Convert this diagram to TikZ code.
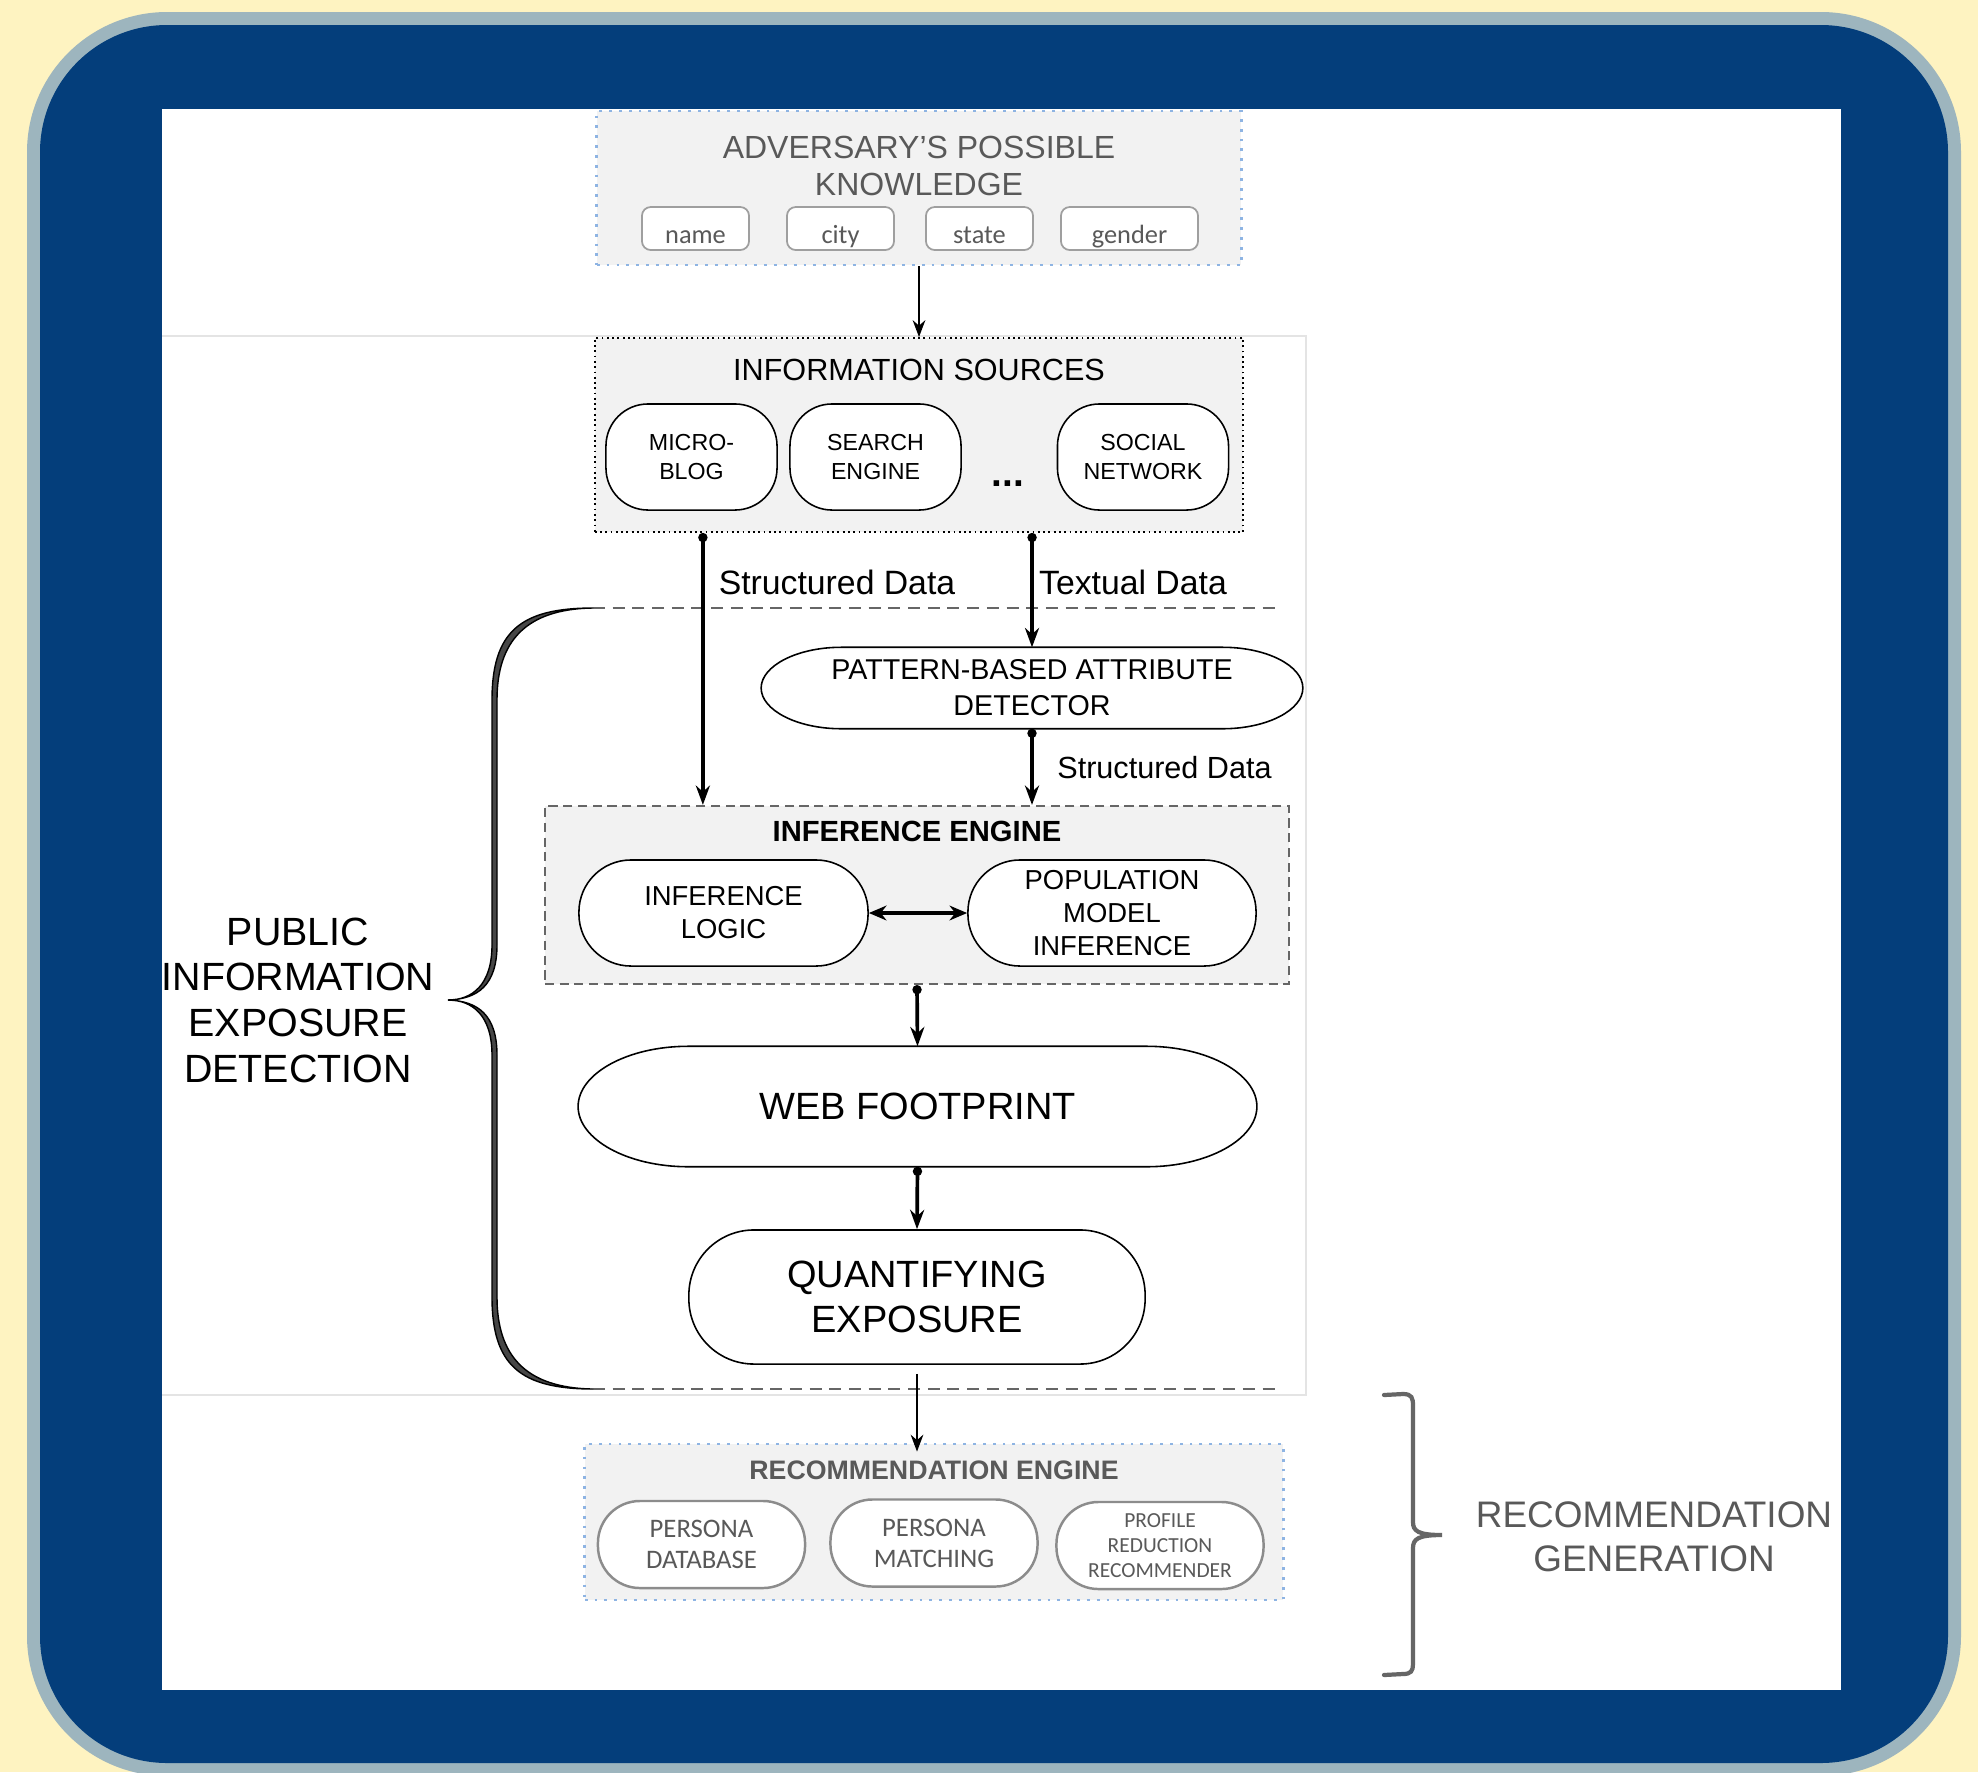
\documentclass[tikz,border=0pt]{standalone}
\usepackage{fontspec}
\setmainfont{Liberation Sans}
\newfontfamily\calib{Carlito}
\usetikzlibrary{arrows.meta}
\definecolor{creambg}{HTML}{FEF3C1}
\definecolor{frameedge}{HTML}{9DB5BE}
\definecolor{navy}{HTML}{043E7B}
\definecolor{boxfill}{HTML}{F2F2F2}
\definecolor{txtgray}{HTML}{595959}
\definecolor{dotblue}{HTML}{8EB4E3}
\definecolor{faintline}{HTML}{E4E4E4}
\newcommand{\fsz}[2]{\fontsize{#1}{#2}\selectfont}
% capsule with elliptical ends round a named node: name, x radius, y radius
\newcommand{\capsule}[3]{%
  \draw[line width=0.45pt, fill=white]
    ([xshift=-#2]#1.north east)
    .. controls ([xshift=-0.448*#2]#1.north east) and ([yshift=0.552*#3]#1.east) .. (#1.east)
    .. controls ([yshift=-0.552*#3]#1.east) and ([xshift=-0.448*#2]#1.south east) .. ([xshift=-#2]#1.south east)
    -- ([xshift=#2]#1.south west)
    .. controls ([xshift=0.448*#2]#1.south west) and ([yshift=-0.552*#3]#1.west) .. (#1.west)
    .. controls ([yshift=0.552*#3]#1.west) and ([xshift=0.448*#2]#1.north west) .. ([xshift=#2]#1.north west)
    -- cycle;}

\begin{document}
\begin{tikzpicture}[
  x=0.01cm, y=-0.01cm,
  arrow/.style={-{Stealth[length=5.5pt,width=4pt]}, line width=1.05pt},
  thinarrow/.style={-{Stealth[length=4.8pt,width=3.6pt]}, line width=0.5pt},
  dotarrow/.style={{Circle[length=2.6pt]}-{Stealth[length=5.5pt,width=4pt]}, line width=1.05pt},
  group/.style={fill=boxfill, inner sep=0pt},
  tag/.style={draw=gray!75, fill=white, rounded corners=2.5pt, line width=0.5pt, text=txtgray, font=\calib\fsz{7.5}{9}, minimum height=0.43cm, inner sep=0pt, text height=0.86em, text depth=0pt},
  srcbox/.style={draw, fill=white, rounded corners=0.42cm, line width=0.45pt, align=center, font=\fsz{6.6}{8}, minimum width=1.71cm, minimum height=1.06cm, inner sep=0pt},
  pill/.style={draw, fill=white, line width=0.45pt, align=center, inner sep=0pt},
  slot/.style={inner sep=0pt},
  recpill/.style={draw=gray!90, fill=white, line width=0.7pt, rounded corners=0.42cm, align=center, inner sep=0pt, text=txtgray, minimum width=2.07cm, minimum height=0.87cm},
  sepline/.style={gray!80!black, line width=0.65pt, dash pattern=on 3.4pt off 2.2pt},
]
\useasboundingbox (0,0) rectangle (1978,1772);

% Frame
\fill[creambg] (0,0) rectangle (1978,1772);
\fill[frameedge, rounded corners=1.4cm] (27,12) rectangle (1961,1776);
\fill[navy, rounded corners=1.27cm] (40,25) rectangle (1948,1763);
\fill[white] (162,109) rectangle (1841,1690);
\draw[faintline, line width=0.4pt] (162,336) -- (1306,336) -- (1306,1395) -- (162,1395);

% Adversary's knowledge
\node[group, draw=dotblue, dotted, line width=0.8pt, minimum width=6.44cm, minimum height=1.54cm] (adv) at (919,188) {};
\node[text=txtgray, font=\fsz{9.1}{10.5}, align=center] (advtitle) at (919,166) {ADVERSARY'S POSSIBLE\\KNOWLEDGE};
\node[tag, minimum width=1.07cm] (name) at (695.5,228.5) {name};
\node[tag, minimum width=1.07cm] (city) at (840.5,228.5) {city};
\node[tag, minimum width=1.07cm] (state) at (979.5,228.5) {state};
\node[tag, minimum width=1.37cm] (gender) at (1129.5,228.5) {gender};

% Information sources
\node[group, draw, densely dotted, line width=0.5pt, minimum width=6.48cm, minimum height=1.94cm] (info) at (919,435) {};
\node[font=\fsz{8.7}{10}] (infotitle) at (919,370) {INFORMATION SOURCES};
\node[srcbox] (micro) at (691.5,457) {MICRO-\\BLOG};
\node[srcbox] (search) at (875.5,457) {SEARCH\\ENGINE};
\node[font=\bfseries\fsz{11}{12}] (more) at (1008,484) {...};
\node[srcbox] (social) at (1143,457) {SOCIAL\\NETWORK};

\draw[thinarrow] (adv.south) -- (info.north);

% Separators and brace
\coordinate (septop) at (593,608);
\coordinate (septopend) at (1280,608);
\coordinate (sepbot) at (593,1389);
\coordinate (sepbotend) at (1280,1389);
\draw[sepline] (septop) -- (septopend);
\draw[sepline] (sepbot) -- (sepbotend);

\draw[line width=0.4pt, fill=gray!55!black]
  (septop) .. controls (520,608) and (492,632) .. (492,700)
  -- (492,945) .. controls (492,985) and (472,1000) .. (448,1000)
  .. controls (478,999) and (497,985) .. (497,945)
  -- (497,700) .. controls (497,642) and (525,609) .. (septop) -- cycle;
\draw[line width=0.4pt, fill=gray!55!black]
  (sepbot) .. controls (520,1389) and (492,1365) .. (492,1297)
  -- (492,1055) .. controls (492,1015) and (472,1000) .. (448,1000)
  .. controls (478,1001) and (497,1015) .. (497,1055)
  -- (497,1297) .. controls (497,1355) and (525,1388) .. (sepbot) -- cycle;
\node[font=\fsz{11.2}{13}, align=center] (pubexp) at (298,1000) {PUBLIC\\INFORMATION\\EXPOSURE\\DETECTION};

% Pattern detector
\node[slot, minimum width=5.4cm, minimum height=0.8cm] (detect) at (1032,688) {};
\capsule{detect}{0.8cm}{0.4cm}
\node[font=\fsz{8.15}{10.2}, align=center] (detecttxt) at (detect) {PATTERN-BASED ATTRIBUTE\\DETECTOR};

% Inference engine
\node[group, draw=gray!80!black, line width=0.6pt, dash pattern=on 2.6pt off 1.6pt, minimum width=7.44cm, minimum height=1.78cm] (infer) at (917,895) {};
\node[font=\bfseries\fsz{8.3}{10}] (infertitle) at (917,831) {INFERENCE ENGINE};
\node[pill, rounded corners=0.52cm, minimum width=2.89cm, minimum height=1.06cm, font=\fsz{7.8}{9.4}] (logic) at (723.5,913) {INFERENCE\\LOGIC};
\node[pill, rounded corners=0.52cm, minimum width=2.88cm, minimum height=1.06cm, font=\fsz{7.8}{9.5}] (popmodel) at (1112,913) {POPULATION\\MODEL\\INFERENCE};
\draw[{Stealth[length=5pt,width=4.2pt]}-{Stealth[length=5pt,width=4.2pt]}, line width=1.2pt] (logic.east) -- (popmodel.west);

% Data flow
\draw[dotarrow] ([xshift=-2.16cm]info.south) -- ([xshift=-2.16cm]info.south |- infer.north);
\draw[dotarrow] ([xshift=1.13cm]info.south) -- (detect.north);
\draw[dotarrow] (detect.south) -- (detect.south |- infer.north);
\node[font=\fsz{9.6}{11}] (structlbl) at (837,582) {Structured Data};
\node[font=\fsz{9.6}{11}] (textlbl) at (1133,582) {Textual Data};
\node[font=\fsz{8.7}{10}] (structlbl2) at (1164.5,768) {Structured Data};

% Footprint and exposure
\node[slot, minimum width=6.77cm, minimum height=1.19cm] (web) at (917.5,1106.5) {};
\capsule{web}{1.1cm}{0.595cm}
\node[font=\fsz{10.8}{12}] (webtxt) at (web) {WEB FOOTPRINT};
\node[pill, rounded corners=0.65cm, minimum width=4.56cm, minimum height=1.34cm, font=\fsz{10.8}{13}] (quant) at (917,1297) {QUANTIFYING\\EXPOSURE};
\draw[dotarrow] (infer.south) -- (web.north);
\draw[dotarrow] (web.south) -- (quant.north);

% Recommendation engine
\node[group, draw=dotblue, dotted, line width=0.8pt, minimum width=6.98cm, minimum height=1.56cm] (rec) at (934,1522) {};
\node[text=txtgray, font=\bfseries\fsz{7.6}{9}] (rectitle) at (934,1470) {RECOMMENDATION ENGINE};
\node[recpill, font=\calib\fsz{7.6}{8.8}] (persdb) at (701.5,1544.5) {PERSONA\\DATABASE};
\node[recpill, font=\calib\fsz{7.6}{8.8}] (persmatch) at (934,1543) {PERSONA\\MATCHING};
\node[recpill, font=\calib\fsz{6.1}{7.1}] (profred) at (1160,1545.5) {PROFILE\\REDUCTION\\RECOMMENDER};
\draw[thinarrow] ([yshift=-0.09cm]quant.south) -- ([yshift=-0.09cm]quant.south |- rec.north);

% Recommendation bracket
\draw[gray!80!black, line width=1.2pt, line cap=round]
  (1384,1395) -- (1403,1394) .. controls (1412,1394) and (1413,1398) .. (1413,1406)
  -- (1413,1522) .. controls (1413,1531) and (1418,1535) .. (1442,1535)
  .. controls (1418,1535) and (1413,1539) .. (1413,1548)
  -- (1413,1664) .. controls (1413,1671) and (1411,1674) .. (1403,1674) -- (1384,1675);
\node[text=txtgray, font=\fsz{10.5}{12.5}, align=center] (recgen) at (1654,1537) {RECOMMENDATION\\GENERATION};
\end{tikzpicture}
\end{document}
